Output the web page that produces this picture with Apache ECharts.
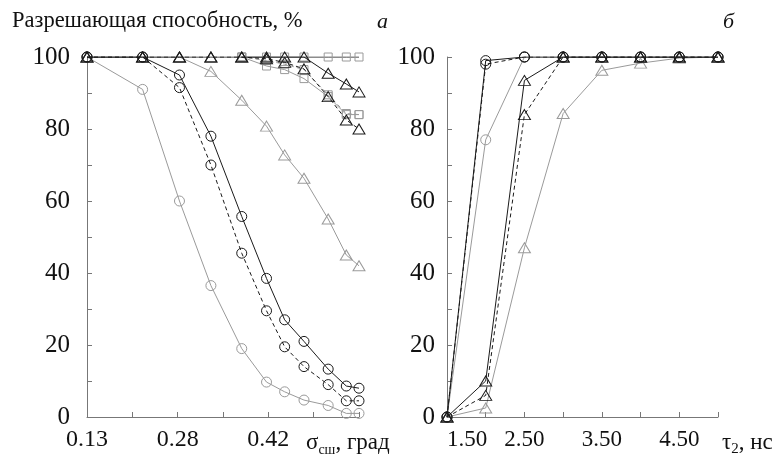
<!DOCTYPE html>
<html><head><meta charset="utf-8">
<script src="https://cdn.jsdelivr.net/npm/echarts@6/dist/echarts.min.js"></script>
<style>html,body{margin:0;background:#fff}#c{width:777px;height:459px}</style>
</head><body><div id="c"></div>
<script>
// Panel a: sigma (deg)
const sigmaX = [0.13, 0.222, 0.283, 0.335, 0.386, 0.427, 0.457, 0.489, 0.529, 0.559, 0.58];
const aCircleSolid  = [100, 100, 95, 78, 55.7, 38.5, 27, 21, 13.3, 8.6, 8];
const aCircleDash   = [100, 100, 91.5, 70, 45.5, 29.5, 19.5, 14, 9, 4.5, 4.5];
const aCircleGray   = [100, 91, 60, 36.5, 19, 9.7, 7, 4.7, 3.2, 1, 1];
const aTriSolid     = [100, 100, 100, 100, 100, 100, 100, 100, 95.5, 92.5, 90.3];
const aTriDash      = [100, 100, 100, 100, 100, 99.5, 98.5, 96.7, 89, 82.5, 80];
const aTriGray      = [100, 100, 100, 96, 88, 80.8, 72.8, 66.3, 55, 45, 42];
const aSqSolid      = [null, null, null, null, 100, 100, 100, 100, 100, 100, 100];
const aSqDash       = [null, null, null, null, 100, 99, 98, 96.5, 89.5, 84.3, 84];
const aSqGray       = [null, null, null, null, 100, 97.5, 96.5, 94, 89, 84, 84];
const aTickValues   = [0.13, 0.205, 0.28, 0.355, 0.43, 0.505, 0.58];
const aLabelValues  = [0.13, 0.28, 0.43];
const aLabelTexts   = ['0.13', '0.28', '0.42'];

// Panel b: tau2 (ns)
const tauX = [1.5, 2.0, 2.5, 3.0, 3.5, 4.0, 4.5, 5.0];
const bCircleSolid = [0, 99, 100, 100, 100, 100, 100, 100];
const bCircleDash  = [0, 98, 100, 100, 100, 100, 100, 100];
const bCircleGray  = [0, 77, 100, 100, 100, 100, 100, 100];
const bTriSolid    = [0, 10, 93.5, 100, 100, 100, 100, 100];
const bTriDash     = [0, 6, 84, 100, 100, 100, 100, 100];
const bTriGray     = [0, 2.5, 47, 84.3, 96.3, 98.3, 99.7, 100];
const bLabelValues = [1.5, 2.5, 3.5, 4.5];

const yTickLabels = [0, 20, 40, 60, 80, 100];

const FONT = 'Liberation Serif';
const BLACK = '#1a1a1a', GRAY = '#9a9a9a';

function pairs(xs, ys) { return xs.map((x, i) => [x, ys[i]]); }
function mk(name, xs, ys, idx, symbol, size, color, type) {
  return {
    name, type: 'line', xAxisIndex: idx, yAxisIndex: idx,
    data: pairs(xs, ys), symbol, symbolSize: size, connectNulls: false,
    lineStyle: { color, width: 1, type },
    itemStyle: { color: 'rgba(0,0,0,0)', borderColor: color, borderWidth: 1 },
    emphasis: { disabled: true }, animation: false, z: color === GRAY ? 2 : 3
  };
}
const TRI = [12, 10], CIR = 10, SQ = 8;
const series = [
  mk('a-cg', sigmaX, aCircleGray, 0, 'circle', CIR, GRAY, 'solid'),
  mk('a-cd', sigmaX, aCircleDash, 0, 'circle', CIR, BLACK, [4, 3]),
  mk('a-cs', sigmaX, aCircleSolid, 0, 'circle', CIR, BLACK, 'solid'),
  mk('a-tg', sigmaX, aTriGray, 0, 'triangle', TRI, GRAY, 'solid'),
  mk('a-td', sigmaX, aTriDash, 0, 'triangle', TRI, BLACK, [4, 3]),
  mk('a-ts', sigmaX, aTriSolid, 0, 'triangle', TRI, BLACK, 'solid'),
  mk('a-sg', sigmaX, aSqGray, 0, 'rect', SQ, GRAY, 'solid'),
  mk('a-sd', sigmaX, aSqDash, 0, 'rect', SQ, GRAY, [4, 3]),
  mk('a-ss', sigmaX, aSqSolid, 0, 'rect', SQ, GRAY, 'solid'),
  mk('b-cg', tauX, bCircleGray, 1, 'circle', CIR, GRAY, 'solid'),
  mk('b-cd', tauX, bCircleDash, 1, 'circle', CIR, BLACK, [4, 3]),
  mk('b-cs', tauX, bCircleSolid, 1, 'circle', CIR, BLACK, 'solid'),
  mk('b-tg', tauX, bTriGray, 1, 'triangle', TRI, GRAY, 'solid'),
  mk('b-td', tauX, bTriDash, 1, 'triangle', TRI, BLACK, [4, 3]),
  mk('b-ts', tauX, bTriSolid, 1, 'triangle', TRI, BLACK, 'solid')
];
series[8].lineStyle.color = BLACK;

const axisCommon = {
  axisLine: { lineStyle: { color: '#777', width: 1 } },
  axisTick: { inside: true, length: 5, lineStyle: { color: '#777' } },
  splitLine: { show: false },
  axisLabel: { fontFamily: FONT, fontSize: 25, color: '#111' }
};
function yAxis(idx, margin) {
  return Object.assign({}, axisCommon, {
    type: 'value', gridIndex: idx, min: 0, max: 100, interval: 10,
    axisLabel: Object.assign({}, axisCommon.axisLabel, {
      margin, formatter: v => (yTickLabels.indexOf(v) >= 0 ? String(v) : '')
    })
  });
}
const option = {
  backgroundColor: '#fff',
  animation: false,
  grid: [
    { left: 87, top: 57, width: 272, height: 360 },
    { left: 447, top: 57, width: 271, height: 360 }
  ],
  xAxis: [
    Object.assign({}, axisCommon, {
      type: 'value', gridIndex: 0, min: 0.13, max: 0.58,
      axisTick: Object.assign({}, axisCommon.axisTick, { customValues: aTickValues }),
      axisLabel: Object.assign({}, axisCommon.axisLabel, {
        margin: 11, fontSize: 24, customValues: aLabelValues,
        formatter: v => { const i = aLabelValues.findIndex(t => Math.abs(t - v) < 1e-6); return i >= 0 ? aLabelTexts[i] : ''; }
      })
    }),
    Object.assign({}, axisCommon, {
      type: 'value', gridIndex: 1, min: 1.5, max: 5.0, interval: 0.5,
      axisLabel: Object.assign({}, axisCommon.axisLabel, {
        margin: 11, fontSize: 23, alignMinLabel: 'left',
        formatter: v => (bLabelValues.some(t => Math.abs(t - v) < 1e-6) ? v.toFixed(2) : '')
      })
    })
  ],
  yAxis: [yAxis(0, 17), yAxis(1, 12)],
  series,
  graphic: [
    { type: 'text', left: 12, top: 10, style: { text: 'Разрешающая способность, %', fontFamily: FONT, fontSize: 22.5, fill: '#111' } },
    { type: 'text', left: 377, top: 11, style: { text: 'а', fontFamily: FONT, fontStyle: 'italic', fontSize: 22, fill: '#111' } },
    { type: 'text', left: 723, top: 11, style: { text: 'б', fontFamily: FONT, fontStyle: 'italic', fontSize: 22, fill: '#111' } },
    { type: 'text', left: 306, top: 431, style: { text: '{a|σ}{s|сш}{a|, град}', rich: { a: { fontFamily: FONT, fontSize: 23, fill: '#111', verticalAlign: 'bottom' }, s: { fontFamily: FONT, fontSize: 14, fill: '#111', verticalAlign: 'bottom', padding: [0, 0, -3, 0] } } } },
    { type: 'text', left: 722, top: 431, style: { text: '{a|τ}{s|2}{a|, нс}', rich: { a: { fontFamily: FONT, fontSize: 23, fill: '#111', verticalAlign: 'bottom' }, s: { fontFamily: FONT, fontSize: 15, fill: '#111', verticalAlign: 'bottom', padding: [0, 0, -3, 0] } } } }
  ]
};
const chart = echarts.init(document.getElementById('c'), null, { renderer: 'canvas' });
chart.setOption(option);
</script></body></html>
